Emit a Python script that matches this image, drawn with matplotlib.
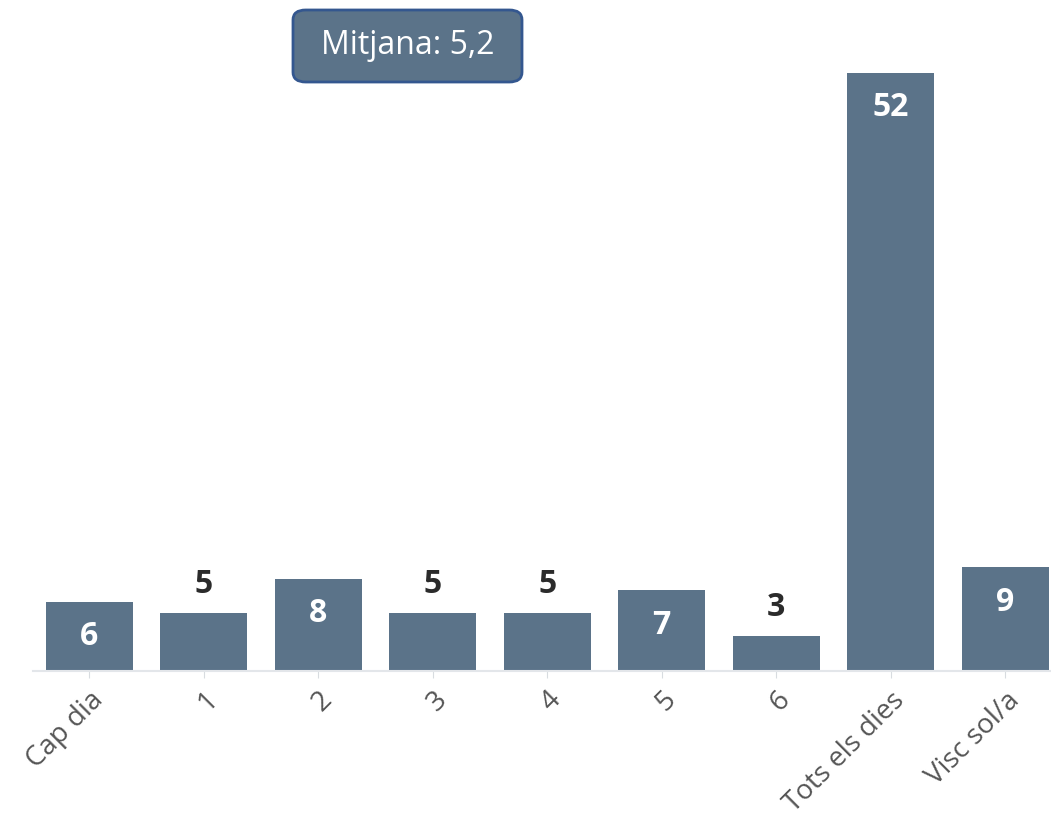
import matplotlib
matplotlib.use("Agg")
import matplotlib.pyplot as plt
from matplotlib.patches import FancyBboxPatch

categories = ["Cap dia", "1", "2", "3", "4", "5", "6", "Tots els dies", "Visc sol/a"]
values = [6, 5, 8, 5, 5, 7, 3, 52, 9]
mean_label = "Mitjana: 5,2"

bar_color = "#5b7389"
plt.rcParams["font.family"] = ["Open Sans", "DejaVu Sans"]

fig = plt.figure(figsize=(10.51, 8.21), dpi=100)
ax = fig.add_axes([33 / 1051, 1 - 671 / 821, 1 - 33 / 1051, 671 / 821])

x = range(len(categories))
ax.bar(x, values, width=0.76, color=bar_color, zorder=2)
ax.set_xlim(-0.49, 8.4)
ax.set_ylim(0, 58.3)

# value labels: inside for taller bars, above for short ones
for xi, v in zip(x, values):
    if v >= 6:
        ax.annotate(str(v), (xi, v), xytext=(0, -25), textcoords="offset points",
                    ha="center", va="center", color="white", fontsize=23, fontweight="bold")
    else:
        ax.annotate(str(v), (xi, v), xytext=(0, 20.5), textcoords="offset points",
                    ha="center", va="center", color="#2b2b2b", fontsize=23, fontweight="bold")

for s in ["top", "right", "left"]:
    ax.spines[s].set_visible(False)
ax.spines["bottom"].set_color("#e3e6ea")
ax.spines["bottom"].set_linewidth(1.5)
ax.set_yticks([])
ax.set_xticks(list(x))
ax.set_xticklabels(categories, rotation=45, ha="right", rotation_mode="anchor",
                   fontsize=20, color="#555555")
ax.tick_params(axis="x", length=5, color="#d8dce0", pad=6)

# mean box
bx0, by0, bw, bh = 293 / 1051, 1 - 82 / 821, 229 / 1051, 72 / 821
box = FancyBboxPatch((bx0, by0), bw, bh, boxstyle="round,pad=0,rounding_size=0.012",
                     transform=fig.transFigure, facecolor="#5b7389",
                     edgecolor="#34578f", linewidth=2, zorder=5)
fig.patches.append(box)
fig.text(bx0 + bw / 2, by0 + bh / 2, mean_label, ha="center", va="center",
         color="white", fontsize=23, zorder=6)

fig.savefig("out.png", dpi=100)
